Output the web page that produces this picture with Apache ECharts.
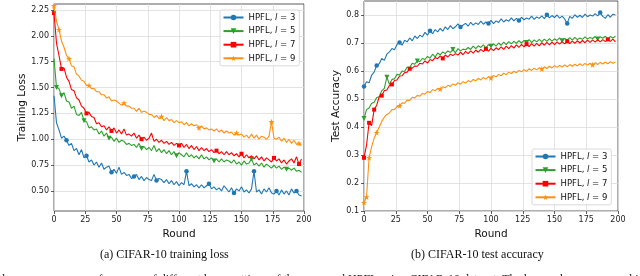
<!DOCTYPE html>
<html><head><meta charset="utf-8">
<script src="https://cdn.jsdelivr.net/npm/echarts@6/dist/echarts.min.js"></script>
<style>html,body{margin:0;padding:0;background:#fff}#c{width:640px;height:276px}</style>
</head><body><div id="c"></div>
<script>
// ---------------- data ----------------
const rounds = [0,2,4,6,8,10,12,14,16,18,20,22,24,26,28,30,32,34,36,38,40,42,44,46,48,50,52,54,56,58,60,62,64,66,68,70,72,74,76,78,80,82,84,86,88,90,92,94,96,98,100,102,104,106,108,110,112,114,116,118,120,122,124,126,128,130,132,134,136,138,140,142,144,146,148,150,152,154,156,158,160,162,164,166,168,170,172,174,176,178,180,182,184,186,188,190,192,194,196,198];
const seriesNames = ['HPFL, l = 3','HPFL, l = 5','HPFL, l = 7','HPFL, l = 9'];
const xTicks = [0,25,50,75,100,125,150,175,200];
const lossTicks = [0.5,0.75,1.0,1.25,1.5,1.75,2.0,2.25];
const accTicks = [0.1,0.2,0.3,0.4,0.5,0.6,0.7,0.8];

const lossL3 = [1.42,1.16,1.09,1.01,1.03,0.99,0.94,0.96,0.89,0.91,
0.85,0.90,0.82,0.84,0.78,0.80,0.75,0.78,0.73,0.77,
0.71,0.73,0.74,0.68,0.71,0.67,0.73,0.66,0.68,0.65,
0.66,0.62,0.64,0.66,0.61,0.64,0.60,0.63,0.61,0.60,
0.66,0.60,0.62,0.61,0.58,0.61,0.57,0.60,0.56,0.59,
0.55,0.58,0.56,0.69,0.55,0.57,0.54,0.56,0.53,0.56,
0.53,0.55,0.57,0.52,0.54,0.51,0.53,0.50,0.55,0.52,
0.49,0.53,0.48,0.52,0.50,0.54,0.49,0.51,0.48,0.52,
0.69,0.49,0.51,0.47,0.52,0.49,0.53,0.48,0.47,0.50,
0.46,0.51,0.47,0.50,0.46,0.52,0.48,0.50,0.46,0.45];
const lossL5 = [1.78,1.50,1.49,1.42,1.45,1.37,1.36,1.30,1.32,1.24,
1.23,1.26,1.18,1.17,1.11,1.12,1.09,1.10,1.05,1.08,
1.03,1.06,1.01,1.02,0.98,1.01,0.97,0.99,0.98,0.95,
0.96,0.94,0.95,0.92,0.96,0.91,0.93,0.90,0.92,0.89,
0.94,0.88,0.91,0.87,0.90,0.86,0.89,0.85,0.88,0.84,
0.87,0.85,0.83,0.87,0.83,0.85,0.82,0.84,0.81,0.85,
0.81,0.83,0.80,0.82,0.79,0.81,0.78,0.81,0.78,0.80,
0.79,0.77,0.80,0.76,0.78,0.75,0.79,0.76,0.77,0.81,
0.75,0.77,0.74,0.77,0.73,0.76,0.74,0.72,0.75,0.72,
0.74,0.71,0.73,0.71,0.72,0.70,0.72,0.69,0.70,0.68];
const lossL7 = [2.22,1.93,1.81,1.68,1.69,1.60,1.56,1.48,1.47,1.40,
1.38,1.32,1.30,1.25,1.26,1.22,1.21,1.15,1.16,1.12,
1.13,1.09,1.12,1.08,1.11,1.06,1.09,1.05,1.10,1.04,
1.05,1.03,1.06,1.01,1.04,1.00,1.02,0.99,1.01,1.06,
0.98,1.00,0.97,0.99,0.96,0.98,0.95,0.97,0.94,0.96,
0.94,0.96,0.92,0.95,0.91,0.94,0.90,0.93,0.89,0.92,
0.89,0.91,0.88,0.90,0.87,0.89,0.86,0.88,0.85,0.88,
0.85,0.87,0.84,0.86,0.83,0.86,0.82,0.85,0.82,0.84,
0.81,0.84,0.80,0.83,0.79,0.82,0.80,0.78,0.82,0.79,
0.81,0.77,0.80,0.76,0.79,0.81,0.77,0.83,0.76,0.81];
const lossL9 = [2.29,2.14,2.06,1.95,1.89,1.81,1.78,1.71,1.70,1.63,
1.61,1.57,1.56,1.52,1.52,1.49,1.49,1.46,1.46,1.43,
1.43,1.40,1.41,1.37,1.38,1.37,1.35,1.33,1.35,1.32,
1.32,1.30,1.30,1.27,1.30,1.26,1.27,1.26,1.24,1.24,
1.21,1.23,1.20,1.22,1.18,1.21,1.18,1.19,1.16,1.18,
1.16,1.17,1.14,1.16,1.13,1.15,1.13,1.14,1.11,1.13,
1.10,1.11,1.09,1.10,1.08,1.10,1.07,1.09,1.06,1.08,
1.06,1.07,1.04,1.06,1.04,1.05,1.02,1.04,1.01,1.05,
1.01,1.04,1.00,1.03,1.02,1.00,1.03,1.17,1.01,1.00,
1.02,0.98,1.01,0.97,1.00,0.96,0.99,0.95,0.96,0.94];

const accL3 = [0.545,0.562,0.558,0.585,0.596,0.620,0.626,0.645,0.638,0.660,
0.668,0.680,0.676,0.695,0.702,0.692,0.710,0.704,0.718,0.708,
0.725,0.716,0.728,0.722,0.738,0.728,0.744,0.733,0.748,0.740,
0.752,0.742,0.758,0.748,0.762,0.751,0.758,0.768,0.757,0.764,
0.770,0.760,0.774,0.764,0.772,0.766,0.778,0.767,0.775,0.770,
0.781,0.769,0.779,0.773,0.786,0.775,0.783,0.778,0.790,0.779,
0.788,0.780,0.792,0.783,0.789,0.785,0.796,0.784,0.793,0.788,
0.797,0.787,0.801,0.790,0.798,0.791,0.800,0.789,0.796,0.786,
0.770,0.795,0.788,0.801,0.792,0.799,0.791,0.803,0.794,0.800,
0.796,0.805,0.797,0.809,0.795,0.788,0.801,0.792,0.803,0.800];
const accL5 = [0.430,0.462,0.468,0.485,0.488,0.505,0.508,0.530,0.538,0.578,
0.552,0.570,0.572,0.588,0.586,0.600,0.598,0.614,0.612,0.628,
0.624,0.636,0.634,0.645,0.641,0.652,0.646,0.660,0.650,0.664,
0.658,0.668,0.662,0.672,0.666,0.677,0.665,0.680,0.672,0.678,
0.676,0.684,0.677,0.689,0.680,0.690,0.684,0.693,0.683,0.694,
0.688,0.697,0.689,0.700,0.692,0.703,0.694,0.705,0.697,0.706,
0.699,0.708,0.700,0.709,0.702,0.712,0.701,0.711,0.704,0.713,
0.705,0.714,0.706,0.716,0.707,0.715,0.709,0.718,0.708,0.716,
0.711,0.719,0.710,0.720,0.712,0.718,0.713,0.722,0.714,0.720,
0.716,0.723,0.714,0.722,0.717,0.724,0.715,0.723,0.718,0.724];
const accL7 = [0.290,0.335,0.415,0.405,0.462,0.478,0.508,0.512,0.530,0.532,
0.548,0.552,0.566,0.568,0.582,0.583,0.594,0.596,0.608,0.610,
0.618,0.617,0.628,0.625,0.636,0.628,0.641,0.637,0.648,0.644,
0.654,0.645,0.657,0.650,0.660,0.655,0.662,0.657,0.667,0.658,
0.670,0.662,0.672,0.664,0.675,0.667,0.677,0.669,0.679,0.671,
0.681,0.673,0.683,0.676,0.686,0.677,0.689,0.680,0.691,0.682,
0.693,0.684,0.695,0.686,0.696,0.687,0.698,0.689,0.699,0.690,
0.701,0.692,0.702,0.693,0.703,0.694,0.704,0.696,0.705,0.697,
0.706,0.698,0.707,0.699,0.708,0.700,0.709,0.701,0.710,0.702,
0.711,0.703,0.712,0.704,0.712,0.705,0.713,0.706,0.714,0.704];
const accL9 = [0.130,0.150,0.290,0.330,0.360,0.380,0.400,0.420,0.435,0.445,
0.450,0.462,0.463,0.473,0.476,0.486,0.485,0.496,0.495,0.506,
0.504,0.513,0.510,0.520,0.517,0.527,0.523,0.534,0.529,0.538,
0.535,0.544,0.540,0.549,0.545,0.554,0.549,0.558,0.553,0.562,
0.557,0.566,0.561,0.570,0.565,0.574,0.568,0.577,0.571,0.580,
0.575,0.584,0.579,0.588,0.583,0.592,0.587,0.596,0.591,0.599,
0.594,0.602,0.597,0.605,0.599,0.608,0.602,0.610,0.604,0.612,
0.607,0.615,0.609,0.617,0.611,0.619,0.613,0.620,0.614,0.622,
0.615,0.623,0.617,0.624,0.618,0.626,0.619,0.627,0.621,0.628,
0.622,0.630,0.623,0.631,0.625,0.632,0.626,0.633,0.628,0.632];

// rounds at which the markers sit
const lossMarkL3 = [10,26,46,64,82,106,124,144,160,178,194];
const lossMarkL5 = [2,6,24,44,70,98,128,158,186];
const lossMarkL7 = [0,6,26,46,70,100,130,150,176,196];
const lossMarkL9 = [0,4,12,28,56,86,116,146,174,196];
const accMarkL3 = [0,10,28,52,76,98,122,144,160,186];
const accMarkL5 = [0,18,42,70,100,128,156,184];
const accMarkL7 = [0,4,8,14,22,36,62,96,128,160,192];
const accMarkL9 = [0,2,4,10,28,60,100,140,180];

// ---------------- styling ----------------
const colors = ['#1f77b4','#2ca02c','#ff0000','#ff9010'];
const STAR = 'path://M0,-10 L2.35,-3.24 L9.51,-3.09 L3.8,1.24 L5.88,8.09 L0,4 L-5.88,8.09 L-3.8,1.24 L-9.51,-3.09 L-2.35,-3.24 Z';
const symbols = ['circle','triangle','rect',STAR];
const rotates = [0,180,0,0];
const sizes = [4.5,5,4,6];
const SANS = 'DejaVu Sans';

const lossData = [lossL3,lossL5,lossL7,lossL9];
const accData = [accL3,accL5,accL7,accL9];
const lossMarks = [lossMarkL3,lossMarkL5,lossMarkL7,lossMarkL9];
const accMarks = [accMarkL3,accMarkL5,accMarkL7,accMarkL9];

const series = [];
function addSeries(gi, vals, marks) {
  for (let k = 0; k < 4; k++) {
    series.push({
      type: 'line', name: seriesNames[k], xAxisIndex: gi, yAxisIndex: gi,
      data: rounds.map((r, i) => [r, vals[k][i]]),
      showSymbol: false, symbol: symbols[k], symbolRotate: rotates[k], symbolSize: sizes[k],
      lineStyle: {color: colors[k], width: 1.1}, itemStyle: {color: colors[k]},
      animation: false, z: 2 + k, silent: true
    });
    series.push({
      type: 'scatter', name: 'mk' + gi + k, xAxisIndex: gi, yAxisIndex: gi,
      data: marks[k].map(r => [r, vals[k][rounds.indexOf(r)]]),
      symbol: symbols[k], symbolRotate: rotates[k], symbolSize: sizes[k],
      itemStyle: {color: colors[k], opacity: 1}, animation: false, z: 2 + k, silent: true
    });
  }
}
addSeries(0, lossData, lossMarks);
addSeries(1, accData, accMarks);

function xAxis(gi) {
  return {
    type: 'value', gridIndex: gi, min: xTicks[0], max: xTicks[xTicks.length - 1], interval: 25,
    name: 'Round', nameLocation: 'middle', nameGap: 14,
    nameTextStyle: {fontFamily: SANS, fontSize: 10.5, color: '#111'},
    axisLine: {show: false},
    axisTick: {show: true, inside: false, length: 3, lineStyle: {color: '#333', width: 0.8}},
    axisLabel: {fontFamily: SANS, fontSize: 8, color: '#222', margin: 5},
    splitLine: {show: true, lineStyle: {color: '#dcdcdc', width: 0.8}}
  };
}
function legend(left, top) {
  return {
    data: seriesNames, orient: 'vertical', left: left, top: top,
    itemWidth: 20, itemHeight: 7, itemGap: 2.6, itemTextGap: 5,
    padding: [2, 4, 2, 2.5], borderColor: '#d0d0d0', borderWidth: 0.8, borderRadius: 2,
    backgroundColor: 'rgba(255,255,255,0.85)', selectedMode: false,
    formatter: function (name) {
      return '{a|HPFL, }{i|l}{a| = ' + name.charAt(name.length - 1) + '}';
    },
    textStyle: {
      fontFamily: SANS, fontSize: 8.5, color: '#111', lineHeight: 11,
      rich: {a: {fontFamily: SANS, fontSize: 8.5, color: '#111'},
             i: {fontFamily: SANS, fontSize: 8.5, fontStyle: 'italic', color: '#111'}}
    }
  };
}

const option = {
  backgroundColor: '#fff',
  animation: false,
  grid: [
    {left: 54, top: 4, width: 250, height: 207, show: true, borderColor: '#333', borderWidth: 0.8, backgroundColor: 'transparent'},
    {left: 364, top: 1, width: 254, height: 210, show: true, borderColor: '#333', borderWidth: 0.8, backgroundColor: 'transparent'}
  ],
  xAxis: [xAxis(0), xAxis(1)],
  yAxis: [
    {
      type: 'value', gridIndex: 0, min: 0.306, max: 2.308,
      name: 'Training Loss', nameLocation: 'middle', nameGap: 25,
      nameTextStyle: {fontFamily: SANS, fontSize: 10.5, color: '#111'},
      axisLine: {show: false},
      axisTick: {show: true, length: 3, customValues: lossTicks, lineStyle: {color: '#333', width: 0.8}},
      axisLabel: {fontFamily: SANS, fontSize: 8, color: '#222', margin: 5, customValues: lossTicks,
                  formatter: v => v.toFixed(2)},
      splitLine: {show: true, lineStyle: {color: '#dcdcdc', width: 0.8}}
    },
    {
      type: 'value', gridIndex: 1, min: 0.1, max: 0.85,
      name: 'Test Accuracy', nameLocation: 'middle', nameGap: 22,
      nameTextStyle: {fontFamily: SANS, fontSize: 10.5, color: '#111'},
      axisLine: {show: false},
      axisTick: {show: true, length: 3, customValues: accTicks, lineStyle: {color: '#333', width: 0.8}},
      axisLabel: {fontFamily: SANS, fontSize: 8, color: '#222', margin: 5, customValues: accTicks,
                  formatter: v => v.toFixed(1)},
      splitLine: {show: true, lineStyle: {color: '#dcdcdc', width: 0.8}}
    }
  ],
  legend: [legend(220, 10), legend(532, 149)],
  series: series,
  graphic: [
    {type: 'text', left: 100, top: 249, style: {text: '(a) CIFAR-10 training loss', font: '12px "Liberation Serif"', fill: '#111'}},
    {type: 'text', left: 411, top: 249, style: {text: '(b) CIFAR-10 test accuracy', font: '12px "Liberation Serif"', fill: '#111'}},
    {type: 'text', left: 2, top: 273.5, style: {text: 'l  e convergence performance of different layer settings of the proposed HPFL using CIFAR-10 dataset. The loss and accuracy are highlighted', font: '12px "Liberation Serif"', fill: '#222'}}
  ]
};
const chart = echarts.init(document.getElementById('c'), null, {renderer: 'canvas'});
chart.setOption(option);
</script>
</body></html>
